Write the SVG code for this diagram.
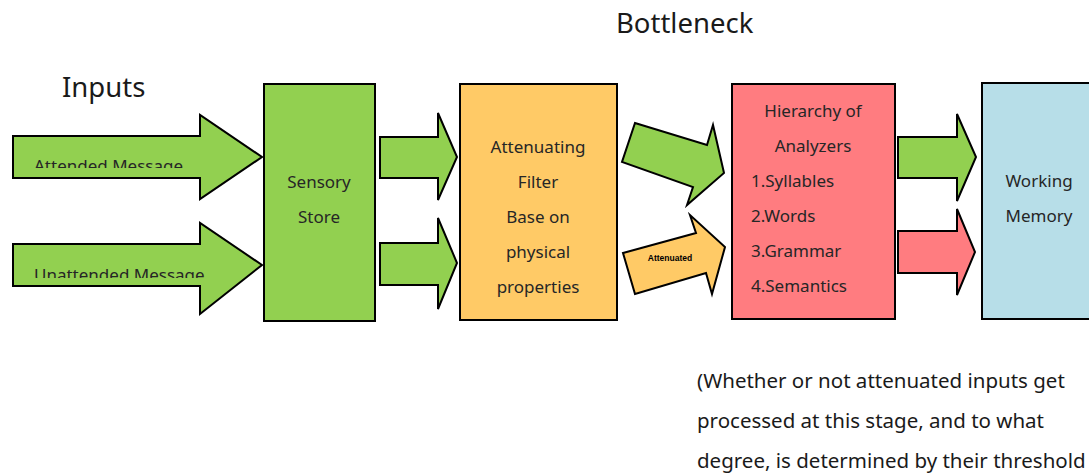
<svg xmlns="http://www.w3.org/2000/svg" width="1089" height="475" viewBox="0 0 1089 475">
  <style>
    .box { stroke: #000; stroke-width: 2; }
    .arrow { stroke: #000; stroke-width: 2; stroke-linejoin: miter; }
    .green { fill: #92D050; }
    .orange { fill: #FFCA66; }
    .pink { fill: #FF7C80; }
    .blue { fill: #B7DEE8; }
    .lbl { font-family: "Noto Sans", "Open Sans", sans-serif; fill: #262626; font-size: 17px; }
    .mid { text-anchor: middle; }
    .title { font-family: "Noto Sans", "Open Sans", sans-serif; fill: #1a1a1a; font-size: 27.5px; }
    .note { font-family: "Noto Sans", "Open Sans", sans-serif; fill: #1a1a1a; font-size: 20.5px; }
    .tiny { font-family: "Liberation Sans", Arial, sans-serif; font-weight: bold; font-size: 8.5px; fill: #000; text-anchor: middle; }
  </style>
  <defs>
    <clipPath id="clipA"><rect x="14" y="137" width="190" height="31"/></clipPath>
    <clipPath id="clipU"><rect x="14" y="245" width="200" height="33"/></clipPath>
  </defs>

  <rect width="1089" height="475" fill="#fff"/>

  <text class="title" x="616" y="33">Bottleneck</text>
  <text class="title" x="62" y="97">Inputs</text>

  <g id="connectors">
    <!-- incoming messages -->
    <polygon class="arrow green" points="13,136 200,136 200,115 262,157 200,199 200,178 13,178"/>
    <g clip-path="url(#clipA)"><text class="lbl" x="34" y="172" font-size="16">Attended Message</text></g>
    <polygon class="arrow green" points="13,244 200,244 200,223 262,265 200,314 200,286 13,286"/>
    <g clip-path="url(#clipU)"><text class="lbl" x="34" y="281" font-size="16">Unattended Message</text></g>

    <!-- sensory store to filter -->
    <polygon class="arrow green" points="380,137 438,137 438,113 457,157 438,200 438,178 380,178"/>
    <polygon class="arrow green" points="380,243 438,243 438,218 457,263 438,309 438,285 380,285"/>

    <!-- filter to analyzers -->
    <polygon class="arrow green" points="635,123 707,145 713,125 724,173 687,205 693,187 622,162"/>
    <polygon class="arrow orange" points="623,253 696,233 690,215 725,247 712,294 706,273 635,294"/>
    <text class="tiny" x="670" y="261">Attenuated</text>

    <!-- analyzers to working memory -->
    <polygon class="arrow green" points="898,137 957,137 957,114 976,157 957,201 957,178 898,178"/>
    <polygon class="arrow pink" points="898,231 957,231 957,209 975,252 957,295 957,273 898,273"/>
  </g>

  <g id="sensory-store">
    <rect class="box green" x="264" y="84" width="111" height="237"/>
    <text class="lbl mid" x="319" y="188">Sensory</text>
    <text class="lbl mid" x="319" y="223">Store</text>
  </g>

  <g id="attenuating-filter">
    <rect class="box orange" x="460" y="84" width="157" height="236"/>
    <text class="lbl mid" x="538" y="153">Attenuating</text>
    <text class="lbl mid" x="538" y="188">Filter</text>
    <text class="lbl mid" x="538" y="223">Base on</text>
    <text class="lbl mid" x="538" y="258">physical</text>
    <text class="lbl mid" x="538" y="293">properties</text>
  </g>

  <g id="hierarchy-of-analyzers">
    <rect class="box pink" x="732" y="84" width="163" height="235"/>
    <text class="lbl mid" x="813" y="117">Hierarchy of</text>
    <text class="lbl mid" x="813" y="152">Analyzers</text>
    <text class="lbl" x="751" y="187">1.Syllables</text>
    <text class="lbl" x="751" y="222">2.Words</text>
    <text class="lbl" x="751" y="257">3.Grammar</text>
    <text class="lbl" x="751" y="292">4.Semantics</text>
  </g>

  <g id="working-memory">
    <rect class="box blue" x="982" y="83" width="120" height="236"/>
    <text class="lbl mid" x="1039" y="187">Working</text>
    <text class="lbl mid" x="1039" y="222">Memory</text>
  </g>

  <g id="note">
    <text class="note" x="697" y="388">(Whether or not attenuated inputs get</text>
    <text class="note" x="697" y="428">processed at this stage, and to what</text>
    <text class="note" x="697" y="468">degree, is determined by their threshold</text>
  </g>
</svg>
